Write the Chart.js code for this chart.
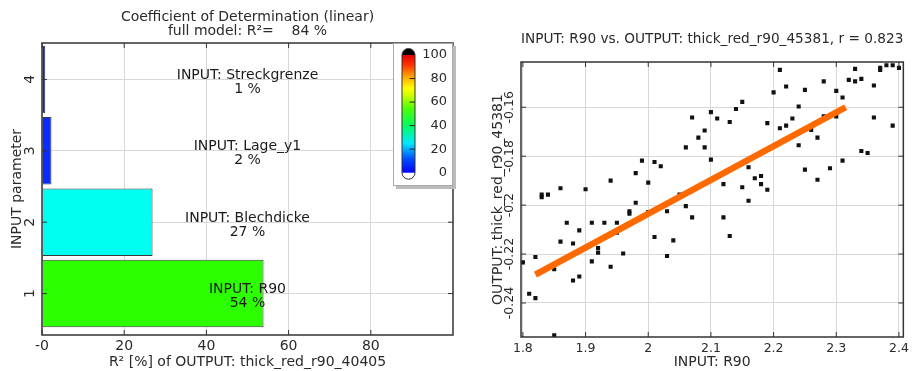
<!DOCTYPE html>
<html>
<head>
<meta charset="utf-8">
<script src="https://cdn.jsdelivr.net/npm/chart.js@4.4.0/dist/chart.umd.min.js"></script>
<style>
  body { margin: 0; background: #fff; width: 913px; height: 371px; position: relative; overflow: hidden; }
  #w1 { position: absolute; left: 0; top: 0; width: 470px; height: 371px; }
  #w2 { position: absolute; left: 480px; top: 0; width: 433px; height: 371px; }
</style>
</head>
<body>
<div id="w1"><canvas id="r2"></canvas></div>
<div id="w2"><canvas id="scat"></canvas></div>
<script>
// left panel: coefficient of determination per input
const params = [1, 2, 3, 4];
const paramNames = ["INPUT: R90", "INPUT: Blechdicke", "INPUT: Lage_y1", "INPUT: Streckgrenze"];
const r2Percent = [53.9, 26.9, 2.3, 0.8];
const r2Labels = ["54 %", "27 %", "2 %", "1 %"];
const barColors = ["#2bff00", "#00fff0", "#0a2cff", "#0a1ee0"];
const r2Ticks = [0, 20, 40, 60, 80];
const r2TickLabels = ["-0", "20", "40", "60", "80"];
const colorbarTicks = [0, 20, 40, 60, 80, 100];

// right panel: R90 vs thickness reduction
const r90 = [2.10, 2.07, 2.09, 2.08, 2.06, 2.09, 2.10, 1.99, 2.01, 2.02,
             1.98, 1.94, 2.00, 1.86, 1.90, 1.83, 1.84, 1.83, 2.05, 1.98,
             1.97, 1.97, 2.00, 2.03, 2.06, 2.07, 1.87, 1.91, 1.93, 1.95,
             1.89, 1.95, 2.01, 1.86, 2.04, 1.88, 1.92, 1.92, 1.96, 1.82,
             2.03, 1.80, 1.91, 1.94, 1.85, 1.88, 1.89, 1.81, 1.82, 1.85,
             2.21, 2.33, 2.37, 2.37, 2.38, 2.39, 2.40, 2.32, 2.33, 2.34,
             2.28, 2.36, 2.22, 2.20, 2.25, 2.30, 2.31, 2.15, 2.14, 2.24,
             2.11, 2.13, 2.19, 2.23, 2.28, 2.30, 2.36, 2.21, 2.22, 2.39,
             2.26, 2.27, 2.24, 2.34, 2.35, 2.31, 2.16, 2.25, 2.29, 2.12,
             2.15, 2.17, 2.18, 2.18, 2.19, 2.27, 2.16, 2.12, 2.13];
const thick = [-0.1620, -0.1642, -0.1695, -0.1724, -0.1764, -0.1764, -0.1814, -0.1818, -0.1824, -0.1841,
               -0.1869, -0.1900, -0.1908, -0.1931, -0.1935, -0.1957, -0.1957, -0.1968, -0.1957, -0.1990,
               -0.2025, -0.2035, -0.2028, -0.2025, -0.2004, -0.2050, -0.2072, -0.2072, -0.2072, -0.2072,
               -0.2103, -0.2113, -0.2130, -0.2149, -0.2144, -0.2157, -0.2175, -0.2194, -0.2198, -0.2212,
               -0.2208, -0.2234, -0.2230, -0.2252, -0.2262, -0.2308, -0.2292, -0.2362, -0.2380, -0.2532,
               -0.1447, -0.1443, -0.1439, -0.1447, -0.1428, -0.1428, -0.1439, -0.1488, -0.1494, -0.1484,
               -0.1494, -0.1511, -0.1515, -0.1539, -0.1529, -0.1533, -0.1560, -0.1578, -0.1607, -0.1597,
               -0.1646, -0.1660, -0.1665, -0.1646, -0.1637, -0.1638, -0.1642, -0.1686, -0.1675, -0.1675,
               -0.1693, -0.1724, -0.1755, -0.1779, -0.1787, -0.1818, -0.1845, -0.1855, -0.1849, -0.1914,
               -0.1927, -0.1890, -0.1881, -0.1914, -0.1937, -0.1896, -0.1982, -0.2050, -0.2126];
const fitR90 = [1.82, 2.315];
const fitThick = [-0.2284, -0.1600];
const r90Ticks = [1.8, 1.9, 2, 2.1, 2.2, 2.3, 2.4];
const thickTicks = [-0.24, -0.22, -0.2, -0.18, -0.16];

const FONT = "DejaVu Sans";
const TXT = "#2a2a2a";
Chart.defaults.font.family = FONT;
Chart.defaults.font.size = 14;
Chart.defaults.color = TXT;

// border, inward tick marks and rotated y tick labels
const framePlugin = {
  id: "frame",
  afterDatasetsDraw(chart, args, opts) {
    const ctx = chart.ctx, a = chart.chartArea;
    const xs = chart.scales.x, ys = chart.scales.y;
    ctx.save();
    ctx.strokeStyle = "#333";
    ctx.lineWidth = 1;
    ctx.beginPath();
    xs.ticks.forEach(t => {
      const p = xs.getPixelForValue(t.value);
      ctx.moveTo(p, a.bottom); ctx.lineTo(p, a.bottom - 5);
      ctx.moveTo(p, a.top); ctx.lineTo(p, a.top + 5);
    });
    ys.ticks.forEach(t => {
      const p = ys.getPixelForValue(t.value);
      ctx.moveTo(a.left, p); ctx.lineTo(a.left + 5, p);
      ctx.moveTo(a.right, p); ctx.lineTo(a.right - 5, p);
    });
    ctx.stroke();
    ctx.lineWidth = 1.5;
    ctx.strokeRect(a.left, a.top, a.right - a.left, a.bottom - a.top);
    ctx.fillStyle = TXT;
    ctx.font = opts.tickSize + "px " + FONT;
    ctx.textAlign = "center";
    ctx.textBaseline = "middle";
    ys.ticks.forEach(t => {
      const p = ys.getPixelForValue(t.value);
      ctx.save();
      ctx.translate(a.left - opts.labelGap, p);
      ctx.rotate(-Math.PI / 2);
      ctx.fillText(t.label, 0, 0);
      ctx.restore();
    });
    ctx.restore();
  }
};

// bar annotations and colour bar of the left panel
const r2Plugin = {
  id: "r2extra",
  afterDraw(chart) {
    const ctx = chart.ctx, a = chart.chartArea, ys = chart.scales.y;
    const cx = (a.left + a.right) / 2;
    ctx.save();
    ctx.fillStyle = "#1a1a1a";
    ctx.font = "14px " + FONT;
    ctx.textAlign = "center";
    ctx.textBaseline = "middle";
    params.forEach((p, i) => {
      const py = ys.getPixelForValue(p);
      ctx.fillText(paramNames[i], cx, py - 4);
      ctx.fillText(r2Labels[i], cx, py + 10);
    });

    // colour bar box
    const bx = a.right - 60, by = a.top, bw = 60, bh = 143;
    ctx.fillStyle = "#bbb";
    ctx.fillRect(bx + 3, by + 3, bw, bh);
    ctx.fillStyle = "#fff";
    ctx.fillRect(bx, by, bw, bh);
    ctx.strokeStyle = "#aaa";
    ctx.lineWidth = 1;
    ctx.strokeRect(bx + 0.5, by + 0.5, bw - 1, bh - 1);

    const pl = bx + 9, pw = 13, r = pw / 2;
    const y100 = by + 12, y0 = by + 129.7;
    const top = y100 - 6.5, bot = y0 + 6.5;
    ctx.save();
    ctx.beginPath();
    ctx.moveTo(pl, top + r);
    ctx.arc(pl + r, top + r, r, Math.PI, 0);
    ctx.lineTo(pl + pw, bot - r);
    ctx.arc(pl + r, bot - r, r, 0, Math.PI);
    ctx.closePath();
    ctx.save();
    ctx.clip();
    ctx.fillStyle = "#fff";
    ctx.fillRect(pl, top, pw, bot - top);
    ctx.fillStyle = "#000";
    ctx.fillRect(pl, top, pw, y100 - top);
    const g = ctx.createLinearGradient(0, y0, 0, y100);
    g.addColorStop(0, "#0000ff");
    g.addColorStop(0.12, "#0050ff");
    g.addColorStop(0.25, "#00e8ff");
    g.addColorStop(0.4, "#00ff60");
    g.addColorStop(0.55, "#50ff00");
    g.addColorStop(0.66, "#d0ff00");
    g.addColorStop(0.72, "#ffff00");
    g.addColorStop(0.82, "#ffa000");
    g.addColorStop(0.92, "#ff3000");
    g.addColorStop(1, "#e00000");
    ctx.fillStyle = g;
    ctx.fillRect(pl, y100, pw, y0 - y100);
    ctx.restore();
    ctx.strokeStyle = "#333";
    ctx.lineWidth = 1;
    ctx.stroke();
    ctx.restore();

    ctx.fillStyle = TXT;
    ctx.font = "13px " + FONT;
    ctx.textAlign = "right";
    ctx.strokeStyle = "#222";
    ctx.beginPath();
    colorbarTicks.forEach(v => {
      const py = y0 - (y0 - y100) * v / 100;
      ctx.fillText(String(v), bx + 54, py);
      if (v > 0 && v < 100) {
        ctx.moveTo(pl + r + 1, py);
        ctx.lineTo(pl + pw, py);
      }
    });
    ctx.stroke();
    ctx.restore();
  }
};

new Chart(document.getElementById("r2"), {
  type: "bar",
  data: {
    datasets: [{
      data: params.map((p, i) => ({ x: r2Percent[i], y: p })),
      backgroundColor: barColors,
      borderColor: "#3a3a3a",
      borderWidth: 1,
      categoryPercentage: 1,
      barPercentage: 0.945
    }]
  },
  options: {
    indexAxis: "y",
    responsive: true,
    maintainAspectRatio: false,
    animation: false,
    layout: { padding: { left: 0, right: 17, top: 0, bottom: 0 } },
    plugins: {
      legend: { display: false },
      tooltip: { enabled: false },
      title: {
        display: true,
        fullSize: false,
        text: ["Coefficient of Determination (linear)", "full model: R\u00b2=    84 %"],
        color: TXT,
        font: { size: 14, weight: "normal", lineHeight: 1.0 },
        padding: { top: 10, bottom: 5 }
      },
      frame: { labelGap: 12, tickSize: 14 }
    },
    scales: {
      x: {
        type: "linear",
        min: 0, max: 100,
        afterBuildTicks: s => { s.ticks = r2Ticks.map(v => ({ value: v })); },
        afterFit: s => { s.height = 36; },
        ticks: {
          padding: 3,
          font: { size: 14 },
          callback: (v) => r2TickLabels[r2Ticks.indexOf(v)]
        },
        grid: { color: "#d8d8d8", drawTicks: false },
        border: { display: false },
        title: { display: true, text: "R\u00b2 [%] of OUTPUT: thick_red_r90_40405", padding: { top: 0, bottom: 0.6 } }
      },
      y: {
        type: "linear",
        offset: false,
        min: 0.42, max: 4.51,
        afterBuildTicks: s => { s.ticks = params.map(v => ({ value: v })); },
        afterFit: s => { s.width = 42; },
        ticks: { display: false, callback: v => String(v) },
        grid: { color: "#d8d8d8", drawTicks: false, offset: false },
        border: { display: false },
        title: { display: true, text: "INPUT parameter", padding: { top: 9, bottom: 0 } }
      }
    }
  },
  plugins: [framePlugin, r2Plugin]
});

new Chart(document.getElementById("scat"), {
  type: "scatter",
  data: {
    datasets: [{
      type: "line",
      data: fitR90.map((x, i) => ({ x: x, y: fitThick[i] })),
      borderColor: "#ff6a00",
      borderWidth: 6.5,
      borderCapStyle: "butt",
      pointRadius: 0,
      fill: false
    }, {
      data: r90.map((x, i) => ({ x: x, y: thick[i] })),
      backgroundColor: "#111",
      borderWidth: 0,
      pointRadius: 2.9,
      pointStyle: "rect"
    }]
  },
  options: {
    responsive: true,
    maintainAspectRatio: false,
    animation: false,
    layout: { padding: { left: 0, right: 8, top: 0, bottom: 0 } },
    plugins: {
      legend: { display: false },
      tooltip: { enabled: false },
      title: {
        display: true,
        fullSize: false,
        text: "INPUT: R90 vs. OUTPUT: thick_red_r90_45381, r = 0.823",
        color: TXT,
        font: { size: 14, weight: "normal", lineHeight: 1.2 },
        padding: { top: 30.6, bottom: 14.6 }
      },
      frame: { labelGap: 11, tickSize: 12.5 }
    },
    scales: {
      x: {
        type: "linear",
        min: 1.797, max: 2.407,
        afterBuildTicks: s => { s.ticks = r90Ticks.map(v => ({ value: v })); },
        afterFit: s => { s.height = 34; },
        ticks: { padding: 4, font: { size: 12.5 }, callback: v => String(v) },
        grid: { color: "#d8d8d8", drawTicks: false },
        border: { display: false },
        title: { display: true, text: "INPUT: R90", padding: { top: 0, bottom: 0.6 } }
      },
      y: {
        type: "linear",
        min: -0.2539, max: -0.1415,
        afterBuildTicks: s => { s.ticks = thickTicks.map(v => ({ value: v })); },
        afterFit: s => { s.width = 41; },
        ticks: { display: false, callback: v => String(v) },
        grid: { color: "#d8d8d8", drawTicks: false },
        border: { display: false },
        title: { display: true, text: "OUTPUT: thick_red_r90_45381", padding: { top: 9.6, bottom: 0 } }
      }
    }
  },
  plugins: [framePlugin]
});
</script>
</body>
</html>
